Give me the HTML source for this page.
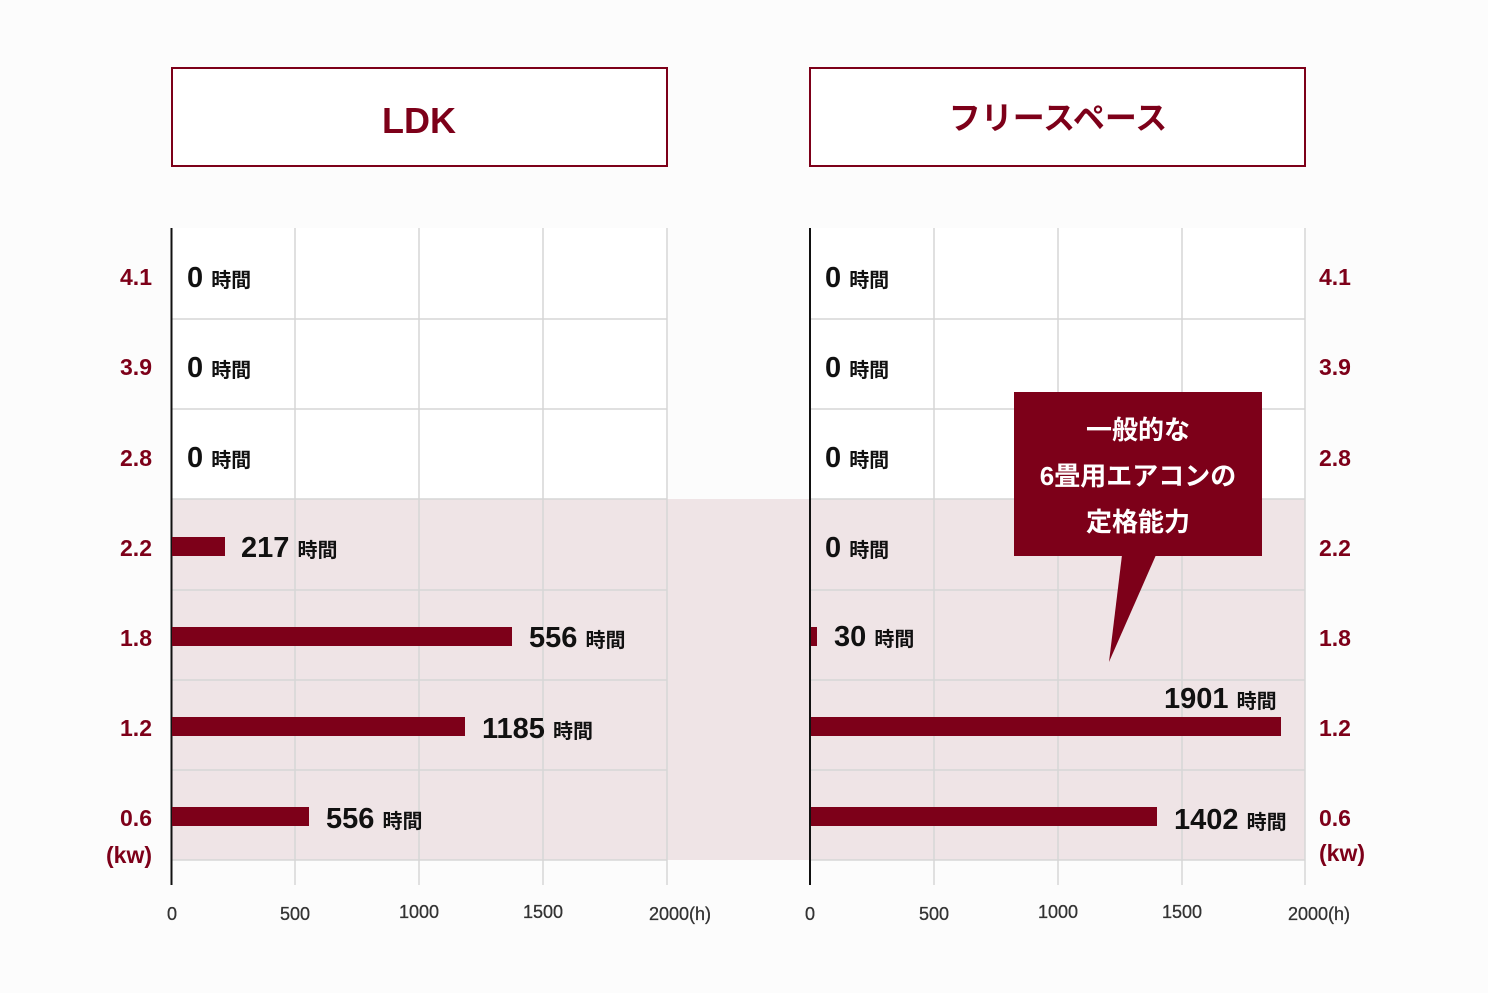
<!DOCTYPE html>
<html><head><meta charset="utf-8"><style>
html,body{margin:0;padding:0;background:#fcfcfc;}
svg{display:block;font-family:"Liberation Sans","Noto Sans CJK JP",sans-serif;}
</style></head><body>
<svg width="1488" height="993" viewBox="0 0 1488 993">
<rect width="1488" height="993" fill="#fcfcfc"/>
<rect x="171" y="228" width="496" height="271" fill="#ffffff"/>
<rect x="810" y="228" width="495" height="271" fill="#ffffff"/>
<rect x="171" y="499" width="1134" height="361" fill="#efe4e6"/>
<g stroke="#d6d6d6" stroke-width="1.5">
<line x1="171" y1="319" x2="667" y2="319"/><line x1="171" y1="409" x2="667" y2="409"/><line x1="171" y1="499" x2="667" y2="499"/><line x1="171" y1="590" x2="667" y2="590"/><line x1="171" y1="680" x2="667" y2="680"/><line x1="171" y1="770" x2="667" y2="770"/><line x1="171" y1="860" x2="667" y2="860"/>
<line x1="810" y1="319" x2="1305" y2="319"/><line x1="810" y1="409" x2="1305" y2="409"/><line x1="810" y1="499" x2="1305" y2="499"/><line x1="810" y1="590" x2="1305" y2="590"/><line x1="810" y1="680" x2="1305" y2="680"/><line x1="810" y1="770" x2="1305" y2="770"/><line x1="810" y1="860" x2="1305" y2="860"/>
<line x1="295" y1="228" x2="295" y2="885"/><line x1="419" y1="228" x2="419" y2="885"/><line x1="543" y1="228" x2="543" y2="885"/><line x1="667" y1="228" x2="667" y2="885"/>
<line x1="934" y1="228" x2="934" y2="885"/><line x1="1058" y1="228" x2="1058" y2="885"/><line x1="1182" y1="228" x2="1182" y2="885"/><line x1="1305" y1="228" x2="1305" y2="885"/>
</g>
<line x1="171.5" y1="228" x2="171.5" y2="885" stroke="#111" stroke-width="2"/>
<line x1="810" y1="228" x2="810" y2="885" stroke="#111" stroke-width="2"/>
<rect x="172" y="68" width="495" height="98" fill="#fff" stroke="#7d0019" stroke-width="2"/>
<rect x="810" y="68" width="495" height="98" fill="#fff" stroke="#7d0019" stroke-width="2"/>
<text x="419" y="133" text-anchor="middle" font-size="36" font-weight="bold" fill="#7d0019">LDK</text>
<text x="1058" y="129" text-anchor="middle" font-size="32" font-weight="bold" fill="#7d0019">フリースペース</text>
<g font-size="23" font-weight="bold" fill="#7d0019" text-anchor="end">
<text x="152" y="285">4.1</text><text x="152" y="375">3.9</text><text x="152" y="466">2.8</text><text x="152" y="556">2.2</text><text x="152" y="646">1.8</text><text x="152" y="736">1.2</text><text x="152" y="826">0.6</text><text x="152" y="863">(kw)</text>
</g>
<g font-size="23" font-weight="bold" fill="#7d0019">
<text x="1319" y="285">4.1</text><text x="1319" y="375">3.9</text><text x="1319" y="466">2.8</text><text x="1319" y="556">2.2</text><text x="1319" y="646">1.8</text><text x="1319" y="736">1.2</text><text x="1319" y="826">0.6</text><text x="1319" y="861">(kw)</text>
</g>
<g fill="#7d0019">
<rect x="172" y="537" width="53" height="19"/><rect x="172" y="627" width="340" height="19"/><rect x="172" y="717" width="293" height="19"/><rect x="172" y="807" width="137" height="19"/>
<rect x="811" y="627" width="6" height="19"/><rect x="811" y="717" width="470" height="19"/><rect x="811" y="807" width="346" height="19"/>
</g>
<g fill="#111" font-weight="bold">
<text x="187" y="287" font-size="29">0 <tspan font-size="20">時間</tspan></text>
<text x="187" y="377" font-size="29">0 <tspan font-size="20">時間</tspan></text>
<text x="187" y="467" font-size="29">0 <tspan font-size="20">時間</tspan></text>
<text x="241" y="557" font-size="29">217 <tspan font-size="20">時間</tspan></text>
<text x="529" y="647" font-size="29">556 <tspan font-size="20">時間</tspan></text>
<text x="482" y="738" font-size="29">1185 <tspan font-size="20">時間</tspan></text>
<text x="326" y="828" font-size="29">556 <tspan font-size="20">時間</tspan></text>
<text x="825" y="287" font-size="29">0 <tspan font-size="20">時間</tspan></text>
<text x="825" y="377" font-size="29">0 <tspan font-size="20">時間</tspan></text>
<text x="825" y="467" font-size="29">0 <tspan font-size="20">時間</tspan></text>
<text x="825" y="557" font-size="29">0 <tspan font-size="20">時間</tspan></text>
<text x="834" y="646" font-size="29">30 <tspan font-size="20">時間</tspan></text>
<text x="1164" y="708" font-size="29">1901 <tspan font-size="20">時間</tspan></text>
<text x="1174" y="829" font-size="29">1402 <tspan font-size="20">時間</tspan></text>
</g>
<rect x="1014" y="392" width="248" height="164" fill="#7d0019"/>
<polygon points="1122,555 1156,555 1109,662" fill="#7d0019"/>
<g fill="#fff" font-size="26" font-weight="bold" text-anchor="middle">
<text x="1138" y="439">一般的な</text><text x="1138" y="485">6畳用エアコンの</text><text x="1138" y="531">定格能力</text>
</g>
<g font-size="18" fill="#333" text-anchor="middle" font-weight="500" stroke="#333" stroke-width="0.3">
<text x="172" y="920">0</text><text x="295" y="920">500</text><text x="419" y="918">1000</text><text x="543" y="918">1500</text><text x="680" y="920">2000(h)</text>
<text x="810" y="920">0</text><text x="934" y="920">500</text><text x="1058" y="918">1000</text><text x="1182" y="918">1500</text><text x="1319" y="920">2000(h)</text>
</g>
</svg>
</body></html>
